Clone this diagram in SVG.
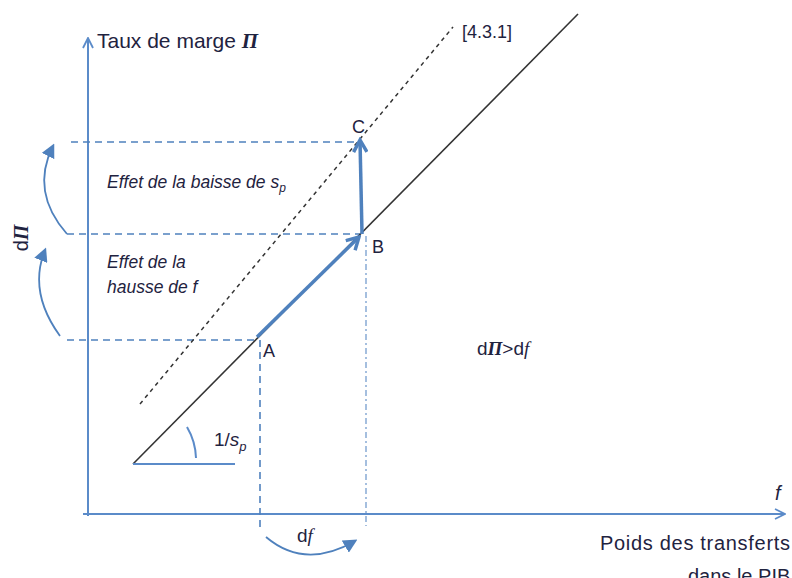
<svg xmlns="http://www.w3.org/2000/svg" width="792" height="578" viewBox="0 0 792 578">
<defs>
<style>
.t{font-family:"Liberation Sans",Arial,sans-serif;fill:#1f2340}
.it{font-style:italic}
.ax{stroke:#5b8bc9;stroke-width:2;fill:none}
.bd{stroke:#4f81bd;stroke-width:1.6;stroke-dasharray:7,5;fill:none}
.bdl{stroke:#8fb0d8;stroke-width:1.6;stroke-dasharray:6,3,2,3;fill:none}
.blk{stroke:#333;stroke-width:1.6;fill:none}
.blkd{stroke:#333;stroke-width:1.5;stroke-dasharray:4,4;fill:none}
.thick{stroke:#4f81bd;stroke-width:3.5;fill:none}
.cur{stroke:#4f81bd;stroke-width:1.8;fill:none}
</style>
<marker id="open" viewBox="0 0 12 12" refX="11" refY="6" markerWidth="12" markerHeight="12" markerUnits="userSpaceOnUse" orient="auto">
<path d="M1,1 L11,6 L1,11" fill="none" stroke="#5b8bc9" stroke-width="1.8"/>
</marker>
<marker id="thickhead" viewBox="0 0 12 12" refX="10" refY="6" markerWidth="16" markerHeight="16" markerUnits="userSpaceOnUse" orient="auto">
<path d="M1,1 L10,6 L1,11" fill="none" stroke="#4f81bd" stroke-width="2.6"/>
</marker>
<marker id="fill" viewBox="0 0 10 10" refX="8" refY="5" markerWidth="14" markerHeight="14" markerUnits="userSpaceOnUse" orient="auto">
<path d="M0,0 L10,5 L0,10 Z" fill="#4f81bd"/>
</marker>
</defs>
<rect width="792" height="578" fill="#fff"/>

<g id="connectors">
<line class="ax" x1="88" y1="516" x2="88" y2="38" marker-end="url(#open)"/>
<line class="ax" x1="83" y1="514" x2="785" y2="514" marker-end="url(#open)"/>
<line class="bd" x1="71" y1="142" x2="360" y2="142"/>
<line class="bd" x1="67" y1="234" x2="360" y2="234"/>
<line class="bd" x1="67" y1="340" x2="259" y2="340"/>
<line class="bd" x1="260" y1="340" x2="260" y2="528"/>
<line class="bdl" x1="366" y1="236" x2="366" y2="526"/>
<line class="blk" x1="133" y1="464" x2="578" y2="14"/>
<line class="blkd" x1="140" y1="404" x2="453" y2="27"/>
<line class="ax" x1="133" y1="464" x2="235" y2="464"/>
<path class="ax" d="M187,427 A65,65 0 0 1 196,458" stroke-width="1.6"/>
<line class="thick" x1="257" y1="337" x2="359" y2="237" marker-end="url(#thickhead)"/>
<line class="thick" x1="362" y1="234" x2="360" y2="140" marker-end="url(#thickhead)"/>
<path class="cur" d="M67,234 Q30,192 53,146" marker-end="url(#fill)"/>
<path class="cur" d="M60,336 Q28,292 45,250" marker-end="url(#fill)"/>
<path class="cur" d="M266,537 Q305,570 355,541" marker-end="url(#fill)"/>
</g>

<g id="axis-y-label"><text class="t" x="97" y="48" font-size="21">Taux de marge <tspan class="it" font-family="Liberation Serif" font-weight="bold">Π</tspan></text></g>
<g id="axis-x-label">
<text class="t it" x="775" y="500" font-size="20" font-family="Liberation Serif">f</text>
<text class="t" x="600" y="550" font-size="20" textLength="190">Poids des transferts</text>
<text class="t" x="688" y="583" font-size="20">dans le PIB</text>
</g>
<g id="ref-label"><text class="t" x="462" y="38" font-size="18">[4.3.1]</text></g>
<g id="point-C"><text class="t" x="352" y="133" font-size="18">C</text></g>
<g id="point-B"><text class="t" x="372" y="253" font-size="18">B</text></g>
<g id="point-A"><text class="t" x="263" y="357" font-size="18">A</text></g>
<g id="effect-sp"><text class="t it" x="107" y="188" font-size="17.5">Effet de la baisse de s<tspan font-size="12" dy="4">p</tspan></text></g>
<g id="effect-f">
<text class="t it" x="107" y="268" font-size="17.5">Effet de la</text>
<text class="t it" x="107" y="293" font-size="17.5">hausse de f</text>
</g>
<g id="dPi"><text class="t" transform="translate(28,238) rotate(-90)" text-anchor="middle" font-size="20">d<tspan class="it" font-family="Liberation Serif" font-weight="bold">Π</tspan></text></g>
<g id="ineq"><text class="t" x="477" y="355" font-size="19">d<tspan class="it" font-family="Liberation Serif" font-weight="bold">Π</tspan>&gt;d<tspan class="it" font-family="Liberation Serif">f</tspan></text></g>
<g id="slope"><text class="t" x="214" y="446" font-size="19">1/<tspan class="it">s</tspan><tspan class="it" font-size="13" dy="5">p</tspan></text></g>
<g id="df"><text class="t" x="297" y="542" font-size="19">d<tspan class="it" font-family="Liberation Serif">f</tspan></text></g>
</svg>
